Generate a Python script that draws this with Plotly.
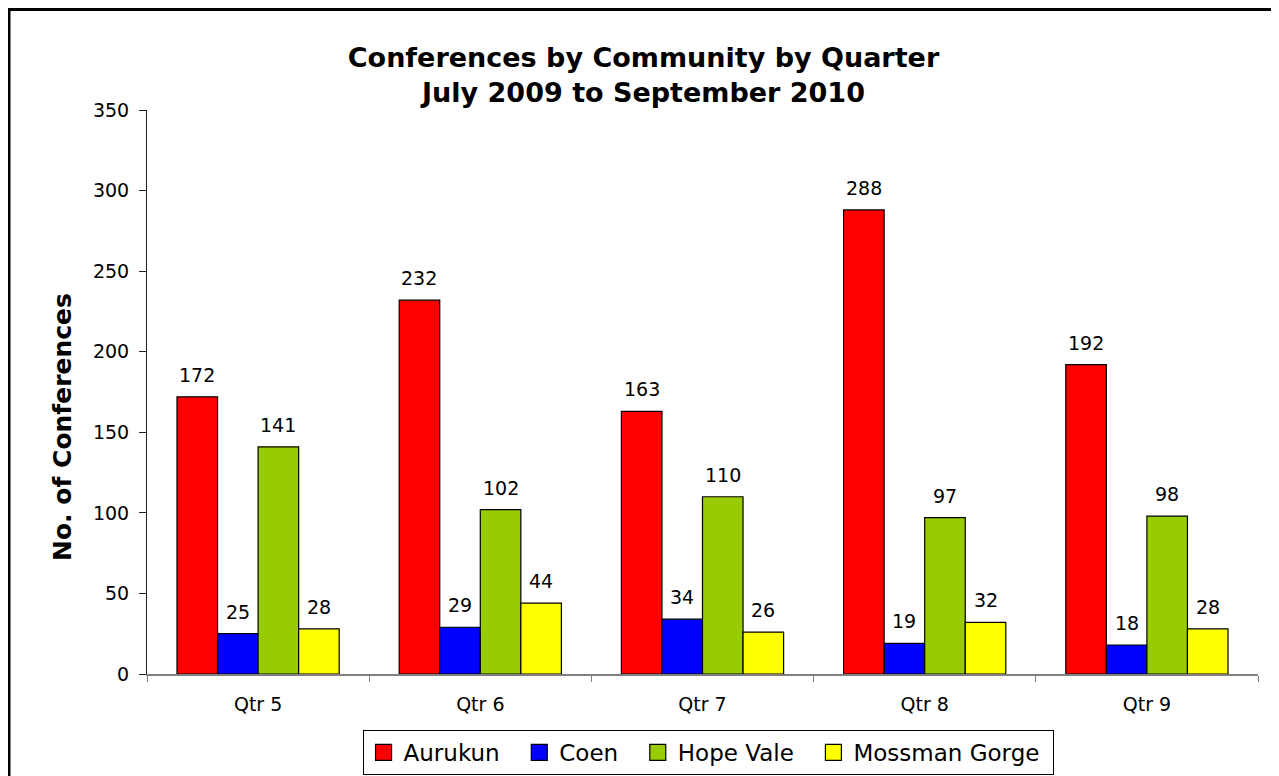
import plotly.graph_objects as go

quarters = ["Qtr 5", "Qtr 6", "Qtr 7", "Qtr 8", "Qtr 9"]
aurukun = [172, 232, 163, 288, 192]
coen = [25, 29, 34, 19, 18]
hope_vale = [141, 102, 110, 97, 98]
mossman_gorge = [28, 44, 26, 32, 28]

series = [
    ("Aurukun", aurukun, "#FF0000"),
    ("Coen", coen, "#0000FF"),
    ("Hope Vale", hope_vale, "#99CC00"),
    ("Mossman Gorge", mossman_gorge, "#FFFF00"),
]

W, H = 1271, 768
ML, MR, MT, MB = 139, 21, 102, 102
plot_w = W - ML - MR
plot_h = H - MT - MB
bargap = 0.27
bar_w = plot_w / len(quarters) * (1 - bargap) / len(series)

fig = go.Figure()
annotations = []
for i, (name, vals, color) in enumerate(series):
    fig.add_trace(go.Bar(
        x=quarters, y=vals, name=name, showlegend=False,
        marker=dict(color=color, line=dict(color="black", width=1.2)),
    ))
    pad = "\u00a0" if i == len(series) - 1 else "\u00a0\u00a0"
    # legend entry with larger square swatch
    fig.add_trace(go.Scatter(
        x=[None], y=[None], name=name + pad, mode="markers",
        marker=dict(symbol="square", size=16, color=color,
                    line=dict(color="black", width=1.2)),
    ))
    shift = (i - (len(series) - 1) / 2) * bar_w
    for q, v in zip(quarters, vals):
        annotations.append(dict(
            x=q, y=v, xref="x", yref="y", text=str(v), showarrow=False,
            xshift=shift, yshift=9, yanchor="bottom", xanchor="center",
            font=dict(family="DejaVu Sans", size=19, color="black"),
        ))

# y-axis title (placed slightly below the axis centre, as in the original)
annotations.append(dict(
    text="<b>No. of Conferences</b>", textangle=-90, showarrow=False,
    xref="paper", yref="paper", x=(54 - ML) / plot_w, y=(666 - 419) / plot_h,
    xanchor="center", yanchor="middle",
    font=dict(family="DejaVu Sans", size=25, color="black"),
))

fig.update_layout(
    width=W, height=H,
    margin=dict(l=ML, r=MR, t=MT, b=MB, autoexpand=False),
    paper_bgcolor="white", plot_bgcolor="white",
    barmode="group", bargap=bargap, bargroupgap=0,
    font=dict(family="DejaVu Sans", size=19, color="black"),
    title=dict(
        text="<b>Conferences by Community by Quarter<br>July 2009 to September 2010</b>",
        x=0.5, xanchor="center", xref="container",
        y=0.923, yanchor="top",
        font=dict(family="DejaVu Sans", size=27, color="black"),
    ),
    showlegend=True,
    legend=dict(
        orientation="h", x=0.505, xanchor="center", y=-0.099, yanchor="top",
        bordercolor="black", borderwidth=1,
        font=dict(family="DejaVu Sans", size=23, color="black"),
        itemwidth=30, traceorder="normal",
    ),
    yaxis=dict(
        range=[0, 350], dtick=50, showgrid=False, zeroline=False,
        showline=True, linecolor="#202020", linewidth=1,
        ticks="outside", ticklen=7, tickcolor="#202020",
        ticklabelstandoff=6,
        tickfont=dict(size=19),
    ),
    xaxis=dict(
        showline=True, linecolor="#808080", linewidth=1.5,
        ticks="outside", ticklen=6, tickcolor="#808080",
        tickson="boundaries", tickfont=dict(size=19),
        ticklabelstandoff=12,
    ),
    annotations=annotations,
    shapes=[dict(
        type="rect", xref="paper", yref="paper",
        x0=(1 - ML) / plot_w, x1=1.2, y0=-0.4, y1=1 + (MT - 1.5) / plot_h,
        line=dict(color="black", width=3), fillcolor="rgba(0,0,0,0)", layer="above",
    )],
)

fig.write_html("out.html")
